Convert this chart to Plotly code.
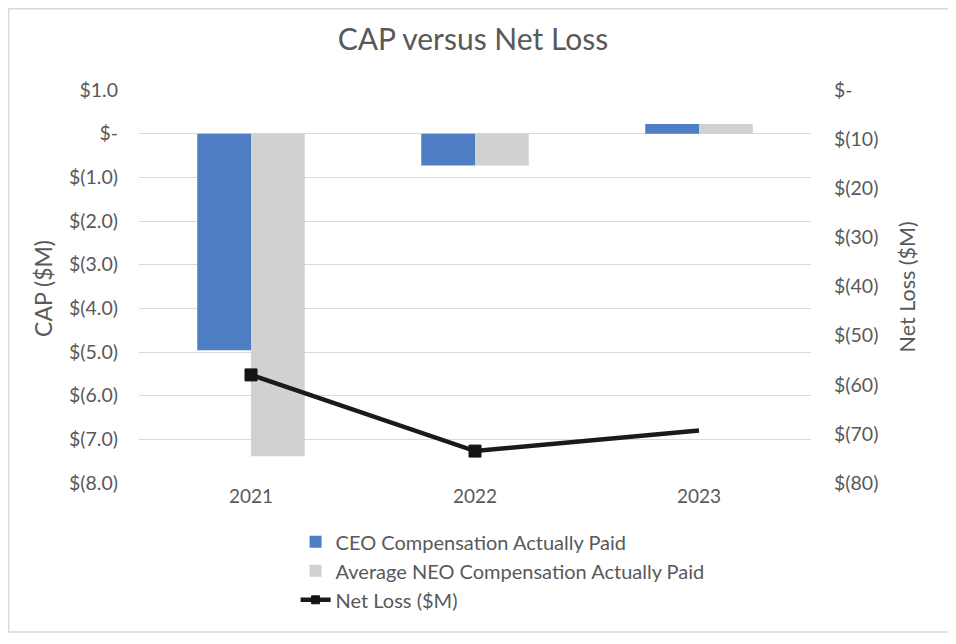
import plotly.graph_objects as go

years = ["2021", "2022", "2023"]
ceo_cap = [-4.96, -0.73, 0.22]
neo_cap = [-7.39, -0.73, 0.22]
net_loss = [-58.0, -73.5, -69.3]

left_vals = [1, 0, -1, -2, -3, -4, -5, -6, -7, -8]
left_text = ["$1.0", "$-", "$(1.0)", "$(2.0)", "$(3.0)", "$(4.0)", "$(5.0)", "$(6.0)", "$(7.0)", "$(8.0)"]
right_vals = [0, -10, -20, -30, -40, -50, -60, -70, -80]
right_text = ["$-", "$(10)", "$(20)", "$(30)", "$(40)", "$(50)", "$(60)", "$(70)", "$(80)"]

FONT = "Lato"
GREY = "#595959"

fig = go.Figure()
fig.add_trace(go.Bar(x=years, y=ceo_cap, name="CEO Compensation Actually Paid",
                     marker=dict(color="#4E7FC4", line=dict(width=0)), legendgroup="a"))
fig.add_trace(go.Bar(x=years, y=neo_cap, name="Average NEO Compensation Actually Paid",
                     marker=dict(color="#D0D1D1", line=dict(width=0)), legendgroup="b"))
fig.add_trace(go.Scatter(x=years, y=net_loss, name="Net Loss ($M)", yaxis="y2",
                         mode="lines+markers",
                         line=dict(color="#1a1a1a", width=4.5),
                         marker=dict(symbol="square", size=[12, 12, 0], color="#141414",
                                     opacity=1, line=dict(width=1, color="#141414")),
                         legendgroup="c"))

fig.update_layout(
    width=948, height=636,
    paper_bgcolor="white", plot_bgcolor="white",
    margin=dict(l=131, r=145, t=82, b=161),
    barmode="group", bargap=0.52, bargroupgap=0,
    title=dict(text="CAP versus Net Loss", x=0.4905, xanchor="center", y=0.95, yanchor="middle",
               font=dict(family=FONT, size=30, color=GREY)),
    font=dict(family=FONT, color=GREY),
    xaxis=dict(showgrid=False, showline=False, ticks="", tickfont=dict(size=19, color=GREY)),
    yaxis=dict(range=[-8, 1], tickvals=left_vals, ticktext=left_text,
               showgrid=True, gridcolor="#D9D9D9", gridwidth=1, zeroline=False,
               tickfont=dict(size=19.5, color=GREY), ticklabelstandoff=20),
    yaxis2=dict(range=[-80, 0], tickvals=right_vals, ticktext=right_text, overlaying="y",
                side="right", showgrid=False, zeroline=False,
                tickfont=dict(size=19.5, color=GREY), ticklabelstandoff=22),
    legend=dict(x=0.233, y=-0.10, xanchor="left", yanchor="top", orientation="v",
                font=dict(size=20, color=GREY), tracegroupgap=4, traceorder="normal",
                bgcolor="rgba(0,0,0,0)"),
    annotations=[
        dict(text="CAP ($M)", xref="paper", yref="paper", x=-0.143, y=0.496,
             textangle=-90, showarrow=False, font=dict(size=23, color=GREY),
             xanchor="center", yanchor="middle"),
        dict(text="Net Loss ($M)", xref="paper", yref="paper", x=1.143, y=0.498,
             textangle=-90, showarrow=False, font=dict(size=21.5, color=GREY),
             xanchor="center", yanchor="middle"),
    ],
    shapes=[dict(type="rect", xref="paper", yref="paper",
                 x0=-0.194, x1=1.205, y0=-0.379, y1=1.207,
                 line=dict(color="#D9D9D9", width=1.5), fillcolor="rgba(0,0,0,0)")],
)

fig.write_html("out.html")
